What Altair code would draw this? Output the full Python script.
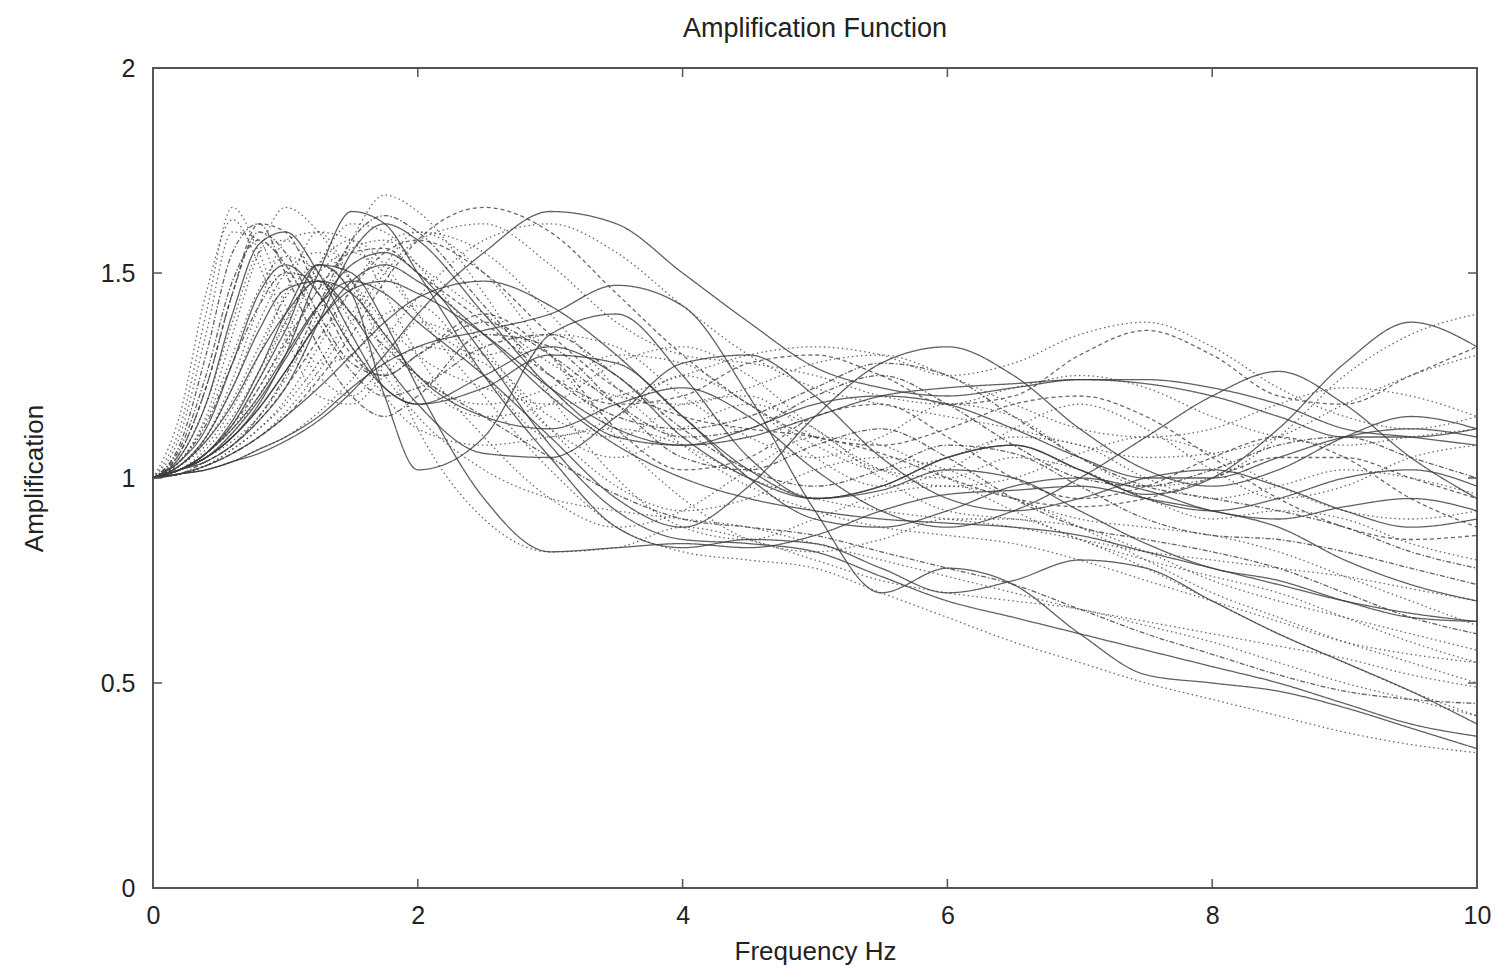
import altair as alt
import pandas as pd

freq = [0, 0.2, 0.4, 0.6, 0.8, 1.0, 1.25, 1.5, 1.75, 2, 2.5, 3, 3.5, 4, 4.5,
        5, 5.5, 6, 6.5, 7, 7.5, 8, 8.5, 9, 9.5, 10]

a1 = [1.00,1.12,1.40,1.66,1.55,1.38,1.25,1.20,1.28,1.38,1.30,1.15,1.10,1.18,1.20,1.10,1.02,1.00,1.05,1.02,0.95,0.90,0.92,0.90,0.84,0.80]
a2 = [1.00,1.08,1.30,1.55,1.62,1.50,1.32,1.20,1.15,1.20,1.35,1.32,1.18,1.05,1.02,1.08,1.12,1.05,0.95,0.88,0.85,0.82,0.78,0.72,0.66,0.62]
a3 = [1.00,1.05,1.18,1.40,1.57,1.60,1.50,1.35,1.22,1.18,1.22,1.30,1.28,1.15,1.00,0.90,0.88,0.92,0.98,1.00,0.97,0.92,0.90,0.93,0.95,0.92]
a4 = [1.00,1.15,1.45,1.63,1.52,1.35,1.20,1.18,1.25,1.32,1.28,1.12,1.05,1.12,1.18,1.12,1.00,0.92,0.90,0.88,0.82,0.75,0.70,0.66,0.62,0.58]
a5 = [1.00,1.04,1.15,1.35,1.55,1.66,1.60,1.48,1.35,1.25,1.18,1.22,1.30,1.28,1.18,1.08,1.02,1.05,1.10,1.08,1.00,0.95,0.98,1.02,1.00,0.96]
a6 = [1.00,1.07,1.25,1.48,1.58,1.52,1.38,1.26,1.20,1.22,1.32,1.35,1.25,1.12,1.02,0.98,1.02,1.08,1.06,0.98,0.90,0.86,0.85,0.82,0.78,0.74]
a7 = [1.00,1.10,1.35,1.60,1.58,1.42,1.28,1.30,1.40,1.42,1.25,1.10,1.15,1.25,1.18,1.05,0.98,1.02,1.12,1.18,1.12,1.02,0.95,0.98,1.05,1.08]
a8 = [1.00,1.06,1.22,1.45,1.62,1.60,1.45,1.30,1.25,1.30,1.40,1.30,1.12,1.02,1.05,1.15,1.18,1.10,1.00,0.95,0.98,1.05,1.10,1.05,0.95,0.88]
b1 = [1.00,1.02,1.06,1.13,1.24,1.36,1.52,1.45,1.20,1.02,1.10,1.35,1.40,1.25,1.05,0.95,0.98,1.05,1.08,1.02,0.95,0.92,0.95,1.00,1.02,0.98]
b2 = [1.00,1.02,1.05,1.10,1.18,1.30,1.50,1.65,1.62,1.50,1.25,1.05,0.88,0.83,0.85,0.84,0.78,0.72,0.75,0.80,0.78,0.70,0.62,0.55,0.48,0.40]
b3 = [1.00,1.02,1.05,1.09,1.15,1.24,1.40,1.58,1.69,1.65,1.45,1.20,1.00,0.88,0.85,0.90,0.96,0.98,0.95,0.88,0.80,0.72,0.66,0.60,0.55,0.50]
b4 = [1.00,1.03,1.08,1.17,1.30,1.45,1.60,1.58,1.45,1.30,1.10,0.95,0.88,0.92,1.02,1.10,1.08,1.00,0.92,0.85,0.80,0.76,0.72,0.66,0.60,0.55]
b5 = [1.00,1.02,1.04,1.08,1.14,1.22,1.38,1.55,1.62,1.58,1.40,1.22,1.10,1.08,1.12,1.18,1.20,1.18,1.12,1.05,1.00,1.00,1.05,1.10,1.12,1.10]
b6 = [1.00,1.01,1.03,1.06,1.10,1.15,1.24,1.35,1.48,1.58,1.66,1.60,1.45,1.30,1.18,1.10,1.08,1.12,1.18,1.20,1.15,1.05,0.95,0.88,0.85,0.86]
b7 = [1.00,1.01,1.03,1.07,1.12,1.19,1.32,1.46,1.57,1.60,1.50,1.30,1.10,0.95,0.85,0.82,0.85,0.90,0.90,0.85,0.78,0.70,0.62,0.55,0.48,0.42]
b8 = [1.00,1.01,1.02,1.04,1.07,1.10,1.15,1.22,1.28,1.32,1.36,1.40,1.47,1.42,1.20,0.92,0.72,0.78,0.74,0.62,0.52,0.50,0.48,0.44,0.39,0.34]
b9 = [1.00,1.02,1.06,1.12,1.22,1.34,1.52,1.62,1.60,1.52,1.32,1.12,0.98,0.92,0.95,1.02,1.05,1.02,0.95,0.90,0.88,0.86,0.82,0.76,0.70,0.64]
b10 = [1.00,1.01,1.04,1.08,1.15,1.25,1.42,1.58,1.64,1.60,1.42,1.25,1.15,1.12,1.15,1.22,1.28,1.25,1.15,1.05,0.98,0.95,0.92,0.88,0.82,0.78]
c1 = [1.00,1.01,1.02,1.04,1.06,1.09,1.14,1.21,1.30,1.40,1.55,1.65,1.62,1.50,1.38,1.27,1.22,1.20,1.22,1.24,1.23,1.20,1.15,1.10,1.10,1.12]
c2 = [1.00,1.01,1.02,1.04,1.07,1.10,1.16,1.24,1.34,1.44,1.58,1.62,1.55,1.42,1.30,1.22,1.18,1.15,1.12,1.08,1.05,1.06,1.10,1.18,1.25,1.30]
d1 = [1.00,1.03,1.10,1.22,1.38,1.50,1.55,1.48,1.38,1.30,1.22,1.18,1.20,1.25,1.30,1.32,1.30,1.25,1.28,1.35,1.38,1.32,1.22,1.15,1.12,1.15]
d2 = [1.00,1.02,1.06,1.12,1.20,1.30,1.42,1.48,1.45,1.38,1.25,1.10,0.95,0.88,0.98,1.15,1.28,1.32,1.25,1.12,1.02,0.98,1.02,1.10,1.15,1.12]
d3 = [1.00,1.04,1.12,1.28,1.45,1.52,1.45,1.32,1.22,1.18,1.25,1.32,1.25,1.10,1.00,0.95,0.98,1.05,1.08,1.02,0.96,1.00,1.12,1.28,1.38,1.32]
d4 = [1.00,1.02,1.07,1.15,1.26,1.38,1.50,1.55,1.50,1.40,1.30,1.35,1.32,1.20,1.10,1.05,1.10,1.18,1.15,1.05,0.98,1.00,1.10,1.25,1.35,1.40]
d5 = [1.00,1.03,1.09,1.18,1.30,1.40,1.48,1.45,1.35,1.25,1.15,1.12,1.18,1.22,1.15,1.02,0.92,0.88,0.92,1.00,1.10,1.20,1.26,1.18,1.05,0.95]
d6 = [1.00,1.01,1.03,1.06,1.10,1.16,1.26,1.38,1.50,1.58,1.62,1.52,1.38,1.30,1.28,1.25,1.20,1.18,1.22,1.25,1.22,1.15,1.10,1.08,1.10,1.12]
d7 = [1.00,1.02,1.05,1.10,1.17,1.26,1.38,1.46,1.48,1.45,1.35,1.22,1.12,1.08,1.10,1.15,1.20,1.22,1.23,1.24,1.24,1.22,1.18,1.12,1.10,1.08]
d8 = [1.00,1.02,1.06,1.13,1.22,1.33,1.46,1.55,1.56,1.50,1.38,1.25,1.18,1.20,1.28,1.30,1.25,1.18,1.20,1.30,1.36,1.30,1.20,1.18,1.25,1.32]
e1 = [1.00,1.02,1.06,1.13,1.24,1.38,1.52,1.58,1.52,1.40,1.20,1.02,0.88,0.82,0.80,0.78,0.72,0.66,0.60,0.55,0.50,0.46,0.42,0.38,0.35,0.33]
e2 = [1.00,1.04,1.13,1.28,1.42,1.50,1.48,1.40,1.32,1.25,1.15,1.05,0.96,0.90,0.88,0.86,0.82,0.78,0.74,0.68,0.62,0.57,0.52,0.48,0.46,0.45]
e3 = [1.00,1.01,1.03,1.07,1.12,1.18,1.28,1.40,1.52,1.60,1.55,1.40,1.22,1.08,0.98,0.92,0.88,0.86,0.84,0.80,0.75,0.70,0.65,0.60,0.57,0.55]
e4 = [1.00,1.02,1.05,1.10,1.17,1.26,1.38,1.48,1.52,1.48,1.35,1.20,1.08,1.00,0.95,0.92,0.90,0.89,0.88,0.86,0.82,0.78,0.74,0.70,0.67,0.65]
e5 = [1.00,1.05,1.18,1.38,1.55,1.58,1.48,1.32,1.20,1.12,1.08,1.10,1.12,1.08,1.00,0.95,0.92,0.90,0.88,0.85,0.82,0.80,0.78,0.76,0.73,0.70]
e6 = [1.00,1.01,1.03,1.06,1.10,1.15,1.22,1.30,1.38,1.44,1.48,1.42,1.30,1.15,1.02,0.95,0.97,1.02,1.00,0.92,0.84,0.78,0.75,0.70,0.66,0.65]
e7 = [1.00,1.03,1.10,1.24,1.42,1.58,1.60,1.48,1.30,1.12,0.90,0.82,0.83,0.88,0.85,0.80,0.75,0.72,0.70,0.68,0.64,0.60,0.55,0.50,0.46,0.42]
e8 = [1.00,1.02,1.06,1.14,1.26,1.40,1.52,1.50,1.38,1.22,0.95,0.82,0.83,0.84,0.83,0.86,0.92,0.96,0.97,0.98,0.95,0.92,0.88,0.80,0.74,0.70]
e9 = [1.00,1.02,1.05,1.11,1.19,1.29,1.42,1.52,1.55,1.50,1.30,1.08,0.92,0.85,0.84,0.82,0.76,0.70,0.66,0.62,0.58,0.54,0.50,0.45,0.40,0.37]
e10 = [1.00,1.04,1.14,1.30,1.46,1.54,1.50,1.38,1.25,1.15,1.02,0.95,0.92,0.90,0.88,0.84,0.80,0.76,0.72,0.68,0.65,0.62,0.59,0.56,0.52,0.49]
f1 = [1.00,1.02,1.05,1.11,1.20,1.32,1.46,1.56,1.58,1.52,1.40,1.28,1.20,1.18,1.22,1.28,1.30,1.25,1.18,1.12,1.10,1.12,1.18,1.22,1.20,1.15]
f2 = [1.00,1.06,1.22,1.45,1.60,1.55,1.40,1.28,1.25,1.30,1.38,1.30,1.18,1.10,1.12,1.20,1.25,1.18,1.08,1.00,0.98,1.02,1.08,1.10,1.05,1.00]
f3 = [1.00,1.03,1.10,1.22,1.36,1.46,1.48,1.40,1.28,1.18,1.06,1.05,1.15,1.28,1.30,1.20,1.05,0.95,0.92,0.95,1.00,1.02,0.98,0.92,0.88,0.90]
f4 = [1.00,1.02,1.04,1.08,1.14,1.22,1.34,1.46,1.55,1.58,1.50,1.35,1.22,1.15,1.12,1.10,1.06,1.00,0.95,0.93,0.95,1.00,1.05,1.05,1.00,0.95]
f5 = [1.00,1.03,1.09,1.19,1.32,1.44,1.52,1.46,1.34,1.24,1.15,1.18,1.28,1.32,1.25,1.12,1.02,0.98,1.00,1.06,1.10,1.06,0.98,0.92,0.90,0.92]

curves = [
    ("a1", "dotted", a1), ("a2", "dashdot", a2), ("a3", "solid", a3),
    ("a4", "dotted", a4), ("a5", "dotted", a5), ("a6", "dashdot", a6),
    ("a7", "dotted", a7), ("a8", "dashed", a8),
    ("b1", "solid", b1), ("b2", "solid", b2), ("b3", "dotted", b3),
    ("b4", "dotted", b4), ("b5", "solid", b5), ("b6", "dashed", b6),
    ("b7", "dotted", b7), ("b8", "solid", b8), ("b9", "dotted", b9),
    ("b10", "dashdot", b10), ("c1", "solid", c1), ("c2", "dotted", c2),
    ("d1", "dotted", d1), ("d2", "solid", d2), ("d3", "solid", d3),
    ("d4", "dotted", d4), ("d5", "solid", d5), ("d6", "dotted", d6),
    ("d7", "solid", d7), ("d8", "dashed", d8), ("e1", "dotted", e1),
    ("e2", "dashdot", e2), ("e3", "dotted", e3), ("e4", "solid", e4),
    ("e5", "dotted", e5), ("e6", "solid", e6), ("e7", "dotted", e7),
    ("e8", "solid", e8), ("e9", "solid", e9), ("e10", "dotted", e10),
    ("f1", "dotted", f1), ("f2", "dashdot", f2), ("f3", "solid", f3),
    ("f4", "dashed", f4), ("f5", "dotted", f5),
]

x_ticks = [2, 4, 6, 8]
y_ticks = [0.5, 1, 1.5]

rows = []
for name, style, vals in curves:
    for f, v in zip(freq, vals):
        rows.append({"curve": name, "style": style, "freq": f, "amp": v})
df = pd.DataFrame(rows)

W, H = 1324, 820
FONT = "Liberation Sans"
TXT = "#222222"

xscale = alt.Scale(domain=[0, 10], nice=False, zero=False)
yscale = alt.Scale(domain=[0, 2], nice=False, zero=False)

lines = alt.Chart(df).mark_line(interpolate="monotone", strokeWidth=1.3, opacity=0.8).encode(
    x=alt.X("freq:Q", scale=xscale, title="Frequency Hz",
            axis=alt.Axis(values=[0, 2, 4, 6, 8, 10], ticks=False, domain=False, grid=False,
                          labelPadding=15, titlePadding=10, format="d", labelFlush=False,
                          labelFont=FONT, labelFontSize=25, labelColor=TXT,
                          titleFont=FONT, titleFontSize=26, titleFontWeight="normal",
                          titleColor=TXT)),
    y=alt.Y("amp:Q", scale=yscale, title="Amplification",
            axis=alt.Axis(values=[0, 0.5, 1, 1.5, 2], ticks=False, domain=False, grid=False,
                          labelPadding=18, titlePadding=53, format="~g",
                          labelFont=FONT, labelFontSize=25, labelColor=TXT,
                          titleFont=FONT, titleFontSize=26, titleFontWeight="normal",
                          titleColor=TXT)),
    detail="curve:N",
    color=alt.Color("style:N", legend=None,
                    scale=alt.Scale(domain=["solid", "dotted", "dashed", "dashdot"],
                                    range=["#3a3a3a", "#444444", "#444444", "#3c3c3c"])),
    strokeDash=alt.StrokeDash("style:N", legend=None,
                              scale=alt.Scale(domain=["solid", "dotted", "dashed", "dashdot"],
                                              range=[[1, 0], [1.5, 3], [4, 3], [5, 2, 1.5, 2]])),
)

xt = pd.DataFrame({"t": x_ticks})
yt = pd.DataFrame({"t": y_ticks})
tick_color = "#555555"
bot = alt.Chart(xt).mark_rule(color=tick_color, strokeWidth=1.5).encode(
    x=alt.X("t:Q", scale=xscale), y=alt.value(H), y2=alt.value(H - 9))
top = alt.Chart(xt).mark_rule(color=tick_color, strokeWidth=1.5).encode(
    x=alt.X("t:Q", scale=xscale), y=alt.value(0), y2=alt.value(9))
left = alt.Chart(yt).mark_rule(color=tick_color, strokeWidth=1.5).encode(
    y=alt.Y("t:Q", scale=yscale), x=alt.value(0), x2=alt.value(9))
right = alt.Chart(yt).mark_rule(color=tick_color, strokeWidth=1.5).encode(
    y=alt.Y("t:Q", scale=yscale), x=alt.value(W), x2=alt.value(W - 9))

chart = alt.layer(lines, bot, top, left, right).properties(
    width=W, height=H,
    background="white",
    title=alt.Title("Amplification Function", fontSize=27, font=FONT, fontWeight="normal",
                    color=TXT, anchor="middle", offset=13),
    autosize=alt.AutoSizeParams(type="none"),
    padding={"left": 145, "top": 60, "right": 15, "bottom": 80},
).configure_view(
    stroke="#555555", strokeWidth=2
)

chart.save("out.html", embed_options={"renderer": "svg", "actions": False})
